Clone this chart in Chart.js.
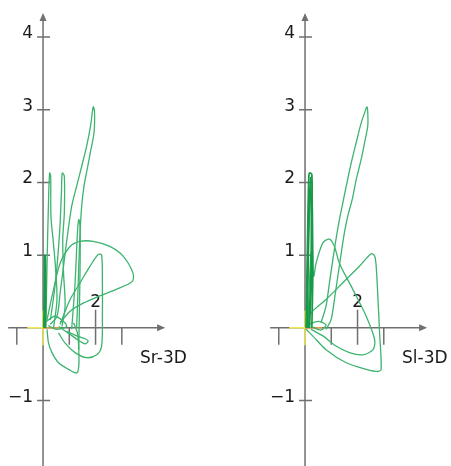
<!DOCTYPE html>
<html>
<head>
<meta charset="utf-8">
<script src="https://cdn.jsdelivr.net/npm/chart.js@4"></script>
<style>
  body { margin: 0; background: #fff; }
  .panel { position: absolute; top: 0; width: 225px; height: 466px; }
</style>
</head>
<body>
<div class="panel" style="left:0"><canvas id="sr" width="225" height="466"></canvas></div>
<div class="panel" style="left:226px"><canvas id="sl" width="225" height="466"></canvas></div>
<script>
// tick labels
const yTickVals = [4, 3, 2, 1, -1];
const xTickVals = [-1, 1, 2, 3];
const xLabelVals = [2];

// Sr-3D curves
const srAxisSpike = [[0.03,0],[0.05,0.6],[0.06,1.0],[0.09,0.95],[0.1,0.4],[0.08,0]];
const srSpike1 = [[0.11,0],[0.15,0.85],[0.21,1.77],[0.25,2.13],[0.29,2.09],[0.3,1.54],[0.38,1.22],[0.47,0.85],[0.53,0.39],[0.4,0]];
const srSpike2 = [[0.28,0.11],[0.47,0.62],[0.63,1.31],[0.7,1.86],[0.73,2.13],[0.81,2.09],[0.81,1.58],[0.75,1.22],[0.78,0.76],[0.84,0.3],[0.72,0.02]];
const srSpike3 = [[0.28,0.05],[0.53,0.16],[0.65,0.48],[0.78,0.85],[0.91,1.22],[1.09,1.67],[1.28,1.95],[1.47,2.22],[1.66,2.5],[1.81,2.78],[1.91,3.04],[1.96,2.98],[1.94,2.68],[1.81,2.43],[1.69,2.2],[1.56,1.95],[1.47,1.67],[1.41,1.31],[1.36,0.85],[1.32,0.39],[1.28,0]];
const srSpike4 = [[1.09,-0.02],[1.22,0.62],[1.31,1.31],[1.36,1.49],[1.41,1.4],[1.41,0.85],[1.38,0.16],[1.36,-0.3]];
const srPetal = [[0.15,0.11],[0.4,0.53],[0.65,0.89],[1.03,1.12],[1.41,1.19],[1.91,1.19],[2.54,1.12],[3.04,0.99],[3.42,0.76],[3.4,0.64],[2.79,0.53],[2.16,0.44],[1.53,0.34],[1.03,0.23],[0.65,0.07]];
const srInner = [[0.65,0.05],[1.03,0.39],[1.41,0.62],[1.79,0.85],[2.1,1.01],[2.23,1.0],[2.26,0.62],[2.26,0.16],[2.23,-0.25],[2.04,-0.37],[1.66,-0.41],[1.22,-0.34],[0.84,-0.21],[0.59,-0.07]];
const srLower = [[0.15,-0.02],[0.21,-0.21],[0.34,-0.34],[0.59,-0.48],[0.97,-0.57],[1.28,-0.62],[1.36,-0.53],[1.36,-0.3],[1.31,-0.07],[1.16,0.07]];
const srSmall = [[0.91,-0.05],[1.28,-0.11],[1.6,-0.15],[1.72,-0.18],[1.6,-0.22],[1.35,-0.17],[1.03,-0.09],[0.6,0.02]];
const srKnot = [[0.1,0.08],[0.45,0.16],[0.8,0.08],[0.9,0.02],[0.5,-0.02],[0.2,0.03]];

// Sl-3D curves
const slSpikeA = [[0.04,0],[0.1,1.31],[0.14,2.04],[0.17,2.13],[0.26,2.11],[0.27,1.54],[0.3,0.85],[0.26,0]];
const slSpikeB = [[0.08,0],[0.17,1.77],[0.22,2.06],[0.23,0.85],[0.14,0]];
const slSpikeC = [[0.06,0],[0.12,1.2],[0.18,1.9],[0.28,1.6],[0.24,0.6],[0.17,0]];
const slNotch = [[0.1,0],[0.23,1.03],[0.33,0.71],[0.42,0.89],[0.68,1.17],[0.93,1.22],[1.12,1.12],[1.31,0.89],[1.82,0.53],[2.33,0.16],[2.65,-0.16],[2.59,-0.3],[2.2,-0.37],[1.69,-0.34],[1.18,-0.25],[0.68,-0.11],[0.23,-0.02]];
const slLong = [[0.61,0.07],[0.8,0.3],[0.93,0.62],[1.06,0.94],[1.18,1.22],[1.31,1.49],[1.44,1.72],[1.57,1.95],[1.76,2.27],[1.95,2.55],[2.14,2.82],[2.31,3.0],[2.36,3.04],[2.39,2.96],[2.39,2.78],[2.27,2.55],[2.14,2.32],[1.95,2.04],[1.8,1.77],[1.63,1.54],[1.5,1.31],[1.38,1.03],[1.25,0.71],[1.12,0.39],[0.99,0.11],[0.8,-0.02]];
const slTriangle = [[0.04,0.11],[0.29,0.23],[0.8,0.39],[1.44,0.62],[2.08,0.85],[2.52,1.02],[2.65,0.99],[2.71,0.85],[2.78,0.39],[2.84,-0.07],[2.9,-0.57],[2.78,-0.6],[2.33,-0.57],[1.57,-0.48],[0.8,-0.3],[0.29,-0.11],[0.04,-0.02]];
const slKnot = [[0.1,0.04],[0.5,0.09],[0.8,0.04],[0.6,-0.03],[0.3,0.01]];

const axisRangeX = [-1.33, 4.65];
const axisRangeY = [-1.9, 4.33];

function pts(arr) { return arr.map(p => ({x: p[0], y: p[1]})); }
function ds(arr, dark) {
  return {
    data: pts(arr),
    showLine: true,
    borderColor: dark ? '#189a48' : '#3cb46e',
    borderWidth: dark ? 1.7 : 1.3,
    pointRadius: 0,
    tension: 0.3,
    fill: false
  };
}

const crossAxes = {
  id: 'crossAxes',
  beforeDatasetsDraw(chart, args, opts) {
    const ctx = chart.ctx;
    const x = chart.scales.x, y = chart.scales.y;
    const ox = x.getPixelForValue(0), oy = y.getPixelForValue(0);
    const x0 = x.getPixelForValue(axisRangeX[0]), x1 = x.getPixelForValue(axisRangeX[1]);
    const y0 = y.getPixelForValue(axisRangeY[0]), y1 = y.getPixelForValue(axisRangeY[1]);
    ctx.save();
    ctx.strokeStyle = '#707070';
    ctx.fillStyle = '#707070';
    ctx.lineWidth = 1.5;
    ctx.beginPath();
    ctx.moveTo(x0, oy); ctx.lineTo(x1 - 2, oy);
    ctx.moveTo(ox, y0); ctx.lineTo(ox, y1 + 2);
    // y ticks
    yTickVals.forEach(v => {
      const py = y.getPixelForValue(v);
      ctx.moveTo(ox - 6, py); ctx.lineTo(ox + 7, py);
    });
    // x ticks
    xTickVals.forEach(v => {
      const px = x.getPixelForValue(v);
      const up = xLabelVals.includes(v) ? 18 : 0;
      ctx.moveTo(px, oy - up); ctx.lineTo(px, oy + 17);
    });
    ctx.stroke();
    // arrow heads
    ctx.beginPath();
    ctx.moveTo(x1, oy); ctx.lineTo(x1 - 8, oy - 3.5); ctx.lineTo(x1 - 8, oy + 3.5); ctx.closePath();
    ctx.moveTo(ox, y1); ctx.lineTo(ox - 3.5, y1 + 8); ctx.lineTo(ox + 3.5, y1 + 8); ctx.closePath();
    ctx.fill();
    // yellow / orange markers at origin
    ctx.lineWidth = 1.5;
    ctx.strokeStyle = '#f2ea50';
    ctx.beginPath();
    ctx.moveTo(x.getPixelForValue(-0.6), oy); ctx.lineTo(ox, oy);
    ctx.moveTo(ox, y.getPixelForValue(0.24)); ctx.lineTo(ox, y.getPixelForValue(-0.24));
    ctx.stroke();
    ctx.strokeStyle = '#f0a040';
    ctx.beginPath();
    ctx.moveTo(ox, oy); ctx.lineTo(x.getPixelForValue(0.65), oy);
    ctx.stroke();
    // labels
    ctx.fillStyle = '#1a1a1a';
    ctx.font = '17px "DejaVu Sans"';
    ctx.textAlign = 'right';
    ctx.textBaseline = 'alphabetic';
    yTickVals.forEach(v => {
      const py = y.getPixelForValue(v);
      ctx.fillText(v < 0 ? '\u2212' + Math.abs(v) : String(v), ox - 10, py + 1);
    });
    ctx.textAlign = 'center';
    xLabelVals.forEach(v => {
      ctx.fillText(String(v), x.getPixelForValue(v), oy - 21);
    });
    ctx.textAlign = 'left';
    ctx.fillText(opts.label, ox + 97, oy + 35);
    ctx.restore();
  }
};

function makeChart(id, sets, xmin, xmax, label) {
  return new Chart(document.getElementById(id), {
    type: 'scatter',
    data: { datasets: sets },
    options: {
      responsive: false,
      animation: false,
      layout: { padding: 0 },
      plugins: { legend: { display: false }, tooltip: { enabled: false }, crossAxes: { label: label } },
      scales: {
        x: { type: 'linear', min: xmin, max: xmax, display: false },
        y: { type: 'linear', min: -1.9, max: 4.51, display: false }
      }
    },
    plugins: [crossAxes]
  });
}

makeChart('sr', [
  ds(srAxisSpike, true), ds(srSpike1, false), ds(srSpike2, false), ds(srSpike3, false),
  ds(srSpike4, false), ds(srPetal, false), ds(srInner, false), ds(srLower, false),
  ds(srSmall, false), ds(srKnot, false)
], -1.64, 6.93, 'Sr-3D');

makeChart('sl', [
  ds(slSpikeA, true), ds(slSpikeB, true), ds(slSpikeC, true), ds(slNotch, false),
  ds(slLong, false), ds(slTriangle, false), ds(slKnot, false)
], -3.01, 5.56, 'Sl-3D');
</script>
</body>
</html>
